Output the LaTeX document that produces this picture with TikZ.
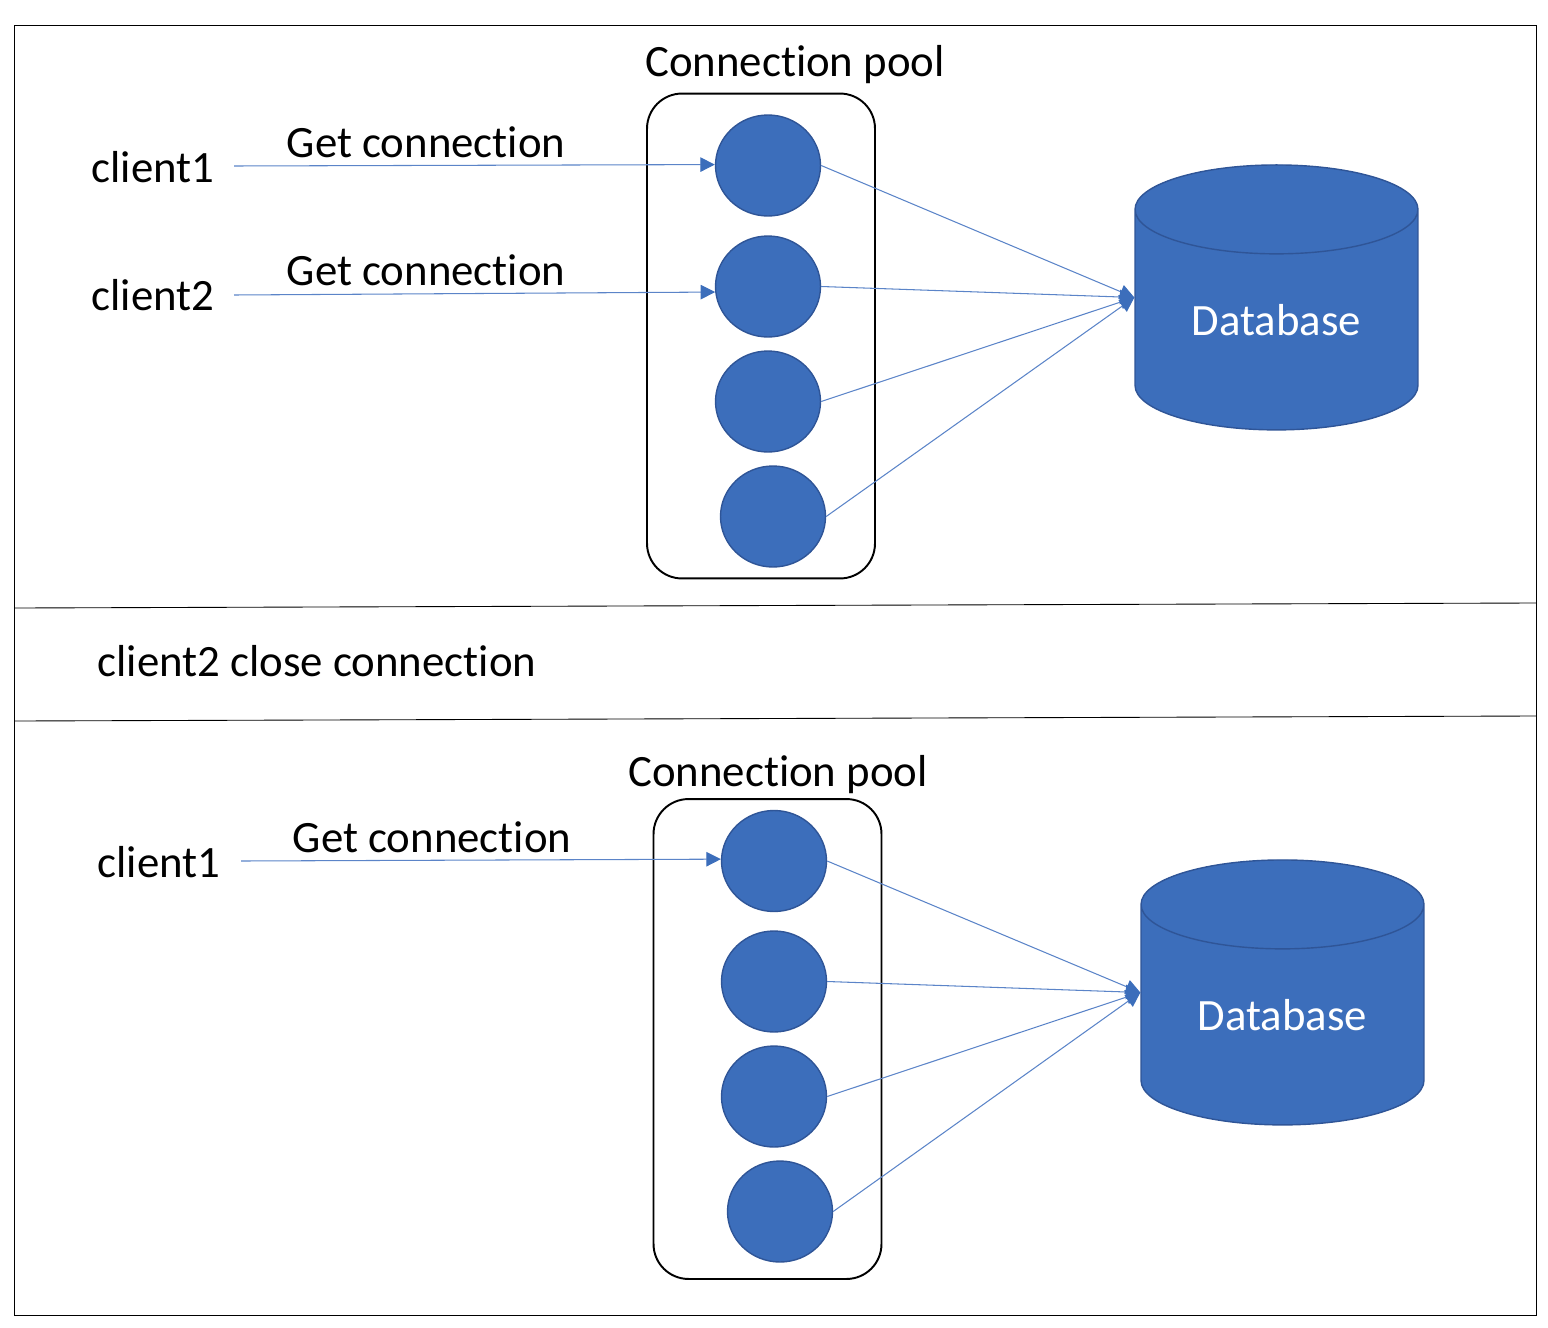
\documentclass[tikz,border=0pt]{standalone}
\usepackage{xcolor}
\usepackage{fontspec}
\setmainfont[Ligatures=NoCommon]{Carlito}
\usetikzlibrary{arrows.meta,shapes.geometric}
\definecolor{poolblue}{HTML}{3C6EBB}
\definecolor{pooledge}{HTML}{2F5597}
\definecolor{linkblue}{HTML}{5B84C8}
\tikzset{
  conn/.style={shape=ellipse,fill=poolblue,draw=pooledge,line width=0.8pt,minimum width=2.1cm,minimum height=2.02cm,inner sep=0pt},
  pool/.style={draw=black,line width=1.1pt,rounded corners=0.7cm,minimum width=4.56cm,inner sep=0pt},
  dbase/.style={shape=cylinder,shape border rotate=90,aspect=0.525,fill=poolblue,draw=pooledge,line width=0.8pt,minimum width=5.66cm,minimum height=5.3cm,inner sep=0pt,text=white,font=\fontsize{25.5}{30}\selectfont},
  txt/.style={text=black,font=\fontsize{25.5}{30}\selectfont,inner sep=0pt},
  link/.style={draw=linkblue,line width=0.6pt,-{Triangle[length=0.29cm,width=0.29cm,color=poolblue]}}
}
\begin{document}
\begin{tikzpicture}[x=0.02cm,y=-0.02cm]
\useasboundingbox (0,0) rectangle (1548,1328);
\node[draw=black,line width=0.9pt,minimum width=30.44cm,minimum height=25.8cm,inner sep=0pt] (frame) at (775.5,670.5) {};
\coordinate (sepAl) at (15,608);
\coordinate (sepAr) at (1536,603);
\coordinate (sepBl) at (15,721);
\coordinate (sepBr) at (1536,716);
\draw[line width=0.5pt] (sepAl) -- (sepAr);
\draw[line width=0.5pt] (sepBl) -- (sepBr);
\node[txt] (closeLabel) at (317,661) {client2 close connection};

% upper pool
\node[txt] (poolA) at (795,65) {Connection pool};
\node[pool,minimum height=9.7cm] (boxA) at (761,336) {};
\node[conn] (A1) at (768,165.5) {};
\node[conn] (A2) at (768,286.5) {};
\node[conn] (A3) at (768,401.5) {};
\node[conn] (A4) at (773,516.5) {};
\node[dbase] (dbA) at (1276.5,320) {Database};
\node[txt] (c1) at (153,167) {client1};
\node[txt] (c2) at (153,295) {client2};
\node[txt] (get1) at (426,142) {Get connection};
\node[txt] (get2) at (426,270) {Get connection};
\coordinate (c1out) at (234,166);
\coordinate (c2out) at (234,295);
\draw[link] (c1out) -- (A1.179);
\draw[link] (c2out) -- (A2.186);
\draw[link] (A1.east) -- (dbA.171);
\draw[link] (A2.east) -- (dbA.171);
\draw[link] (A3.east) -- (dbA.171);
\draw[link] (A4.east) -- (dbA.171);

% lower pool
\node[txt] (poolB) at (778,775) {Connection pool};
\node[pool,minimum height=9.6cm] (boxB) at (767.5,1039) {};
\node[conn] (B1) at (774,861) {};
\node[conn] (B2) at (774,981.5) {};
\node[conn] (B3) at (774,1096.5) {};
\node[conn] (B4) at (780,1211.5) {};
\node[dbase] (dbB) at (1282.5,1015) {Database};
\node[txt] (c3) at (159,862) {client1};
\node[txt] (get3) at (432,837) {Get connection};
\coordinate (c3out) at (241,861);
\draw[link] (c3out) -- (B1.178);
\draw[link] (B1.east) -- (dbB.171);
\draw[link] (B2.east) -- (dbB.171);
\draw[link] (B3.east) -- (dbB.171);
\draw[link] (B4.east) -- (dbB.171);
\end{tikzpicture}
\end{document}
